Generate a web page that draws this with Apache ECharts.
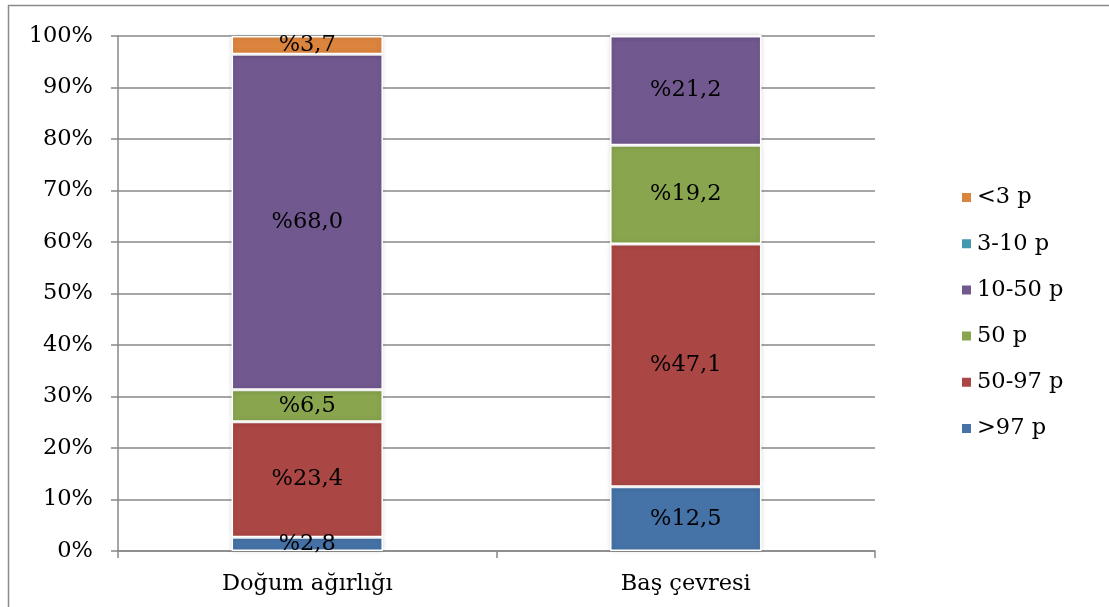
<!DOCTYPE html>
<html><head><meta charset="utf-8">
<script src="https://cdn.jsdelivr.net/npm/echarts@6/dist/echarts.min.js"></script>
<style>html,body{margin:0;padding:0;background:#fff}#c{width:1109px;height:607px}</style>
</head><body><div id="c"></div>
<script>
var categories = ['Doğum ağırlığı', 'Baş çevresi'];
var seriesNames = ['>97 p', '50-97 p', '50 p', '10-50 p', '3-10 p', '<3 p'];
var gt97 = [2.8, 12.5];
var p50_97 = [23.4, 47.1];
var p50 = [6.5, 19.2];
var p10_50 = [68.0, 21.2];
var p3_10 = [0, 0];
var lt3 = [3.7, 0];
var yTicks = ['0%','10%','20%','30%','40%','50%','60%','70%','80%','90%','100%'];
var colors = ['#4572a7', '#aa4643', '#89a54e', '#71588f', '#4198af', '#db843d'];

var raw = [gt97, p50_97, p50, p10_50, p3_10, lt3];
var totals = categories.map(function(_, i){ var s=0; raw.forEach(function(r){ s+=r[i]; }); return s; });
var font = 'DejaVu Serif';
var fs = 22.5;
var chart = echarts.init(document.getElementById('c'));
chart.setOption({
  animation: false,
  graphic: [{type:'rect', shape:{x:8.5,y:5.5,width:1200,height:700}, style:{fill:'none', stroke:'#8a8a8a', lineWidth:1.5}, silent:true}],
  grid: {left:118, right:234, top:36, bottom:56, containLabel:false},
  legend: {
    orient:'vertical', left:955, top:181, itemGap:23.2, itemWidth:11, itemHeight:11,
    icon:'rect', data: seriesNames.slice().reverse(),
    textStyle:{fontFamily:font, fontSize:fs, color:'#000'}
  },
  xAxis: {
    type:'category', data:categories,
    axisLine:{lineStyle:{color:'#888', width:1.5}},
    axisTick:{show:true, length:7, lineStyle:{color:'#888', width:1.5}},
    axisLabel:{fontFamily:font, fontSize:fs, color:'#000', margin:22}
  },
  yAxis: {
    type:'value', min:0, max:100, interval:10,
    axisLine:{show:true, lineStyle:{color:'#888', width:1.5}},
    axisTick:{show:true, length:7, lineStyle:{color:'#888', width:1.5}},
    splitLine:{lineStyle:{color:'#888', width:1.5}},
    axisLabel:{fontFamily:font, fontSize:fs, color:'#000', margin:25, formatter:function(v){ return yTicks[Math.round(v/10)]; }}
  },
  series: raw.map(function(arr, k){
    return {
      name: seriesNames[k], type:'bar', stack:'total', barWidth:'40%',
      itemStyle:{color:colors[k], borderColor:'#fff', borderWidth:1.5, shadowBlur:5, shadowColor:'rgba(0,0,0,0.15)'},
      label:{show:true, position:'inside', fontFamily:font, fontSize:fs, color:'#000',
        formatter:function(p){ var v = arr[p.dataIndex]; return v ? '%' + v.toFixed(1).replace('.', ',') : ''; }},
      data: arr.map(function(v, i){ return v / totals[i] * 100; })
    };
  })
});
</script></body></html>
